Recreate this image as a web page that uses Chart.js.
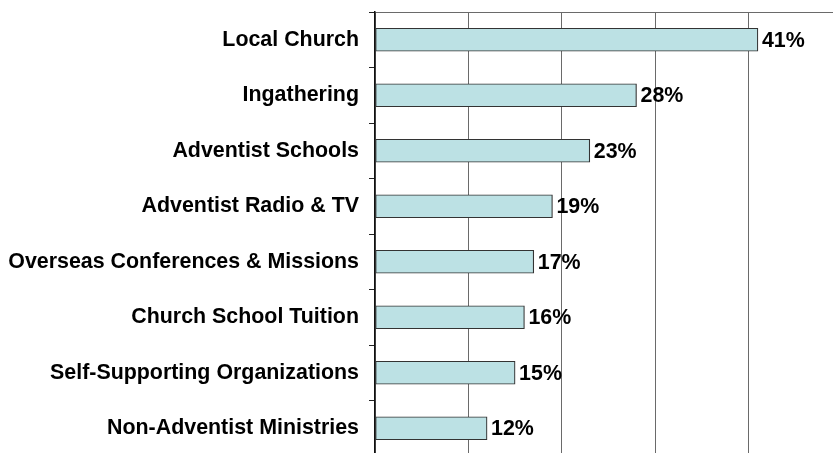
<!DOCTYPE html>
<html>
<head>
<meta charset="utf-8">
<script src="https://cdn.jsdelivr.net/npm/chart.js@4.4.1/dist/chart.umd.min.js"></script>
<style>
html,body{margin:0;padding:0;background:#fff;overflow:hidden;width:833px;height:453px;}
#wrap{position:absolute;left:0;top:0;width:842px;height:456px;}
</style>
</head>
<body>
<div id="wrap"><canvas id="c" width="842" height="456"></canvas></div>
<script>
const categories = ["Local Church","Ingathering","Adventist Schools","Adventist Radio & TV","Overseas Conferences & Missions","Church School Tuition","Self-Supporting Organizations","Non-Adventist Ministries"];
const values = [41,28,23,19,17,16,15,12];
const xTicks = [0,10,20,30,40,50];

const valueLabels = {
  id:'valueLabels',
  afterDatasetsDraw(chart){
    const ctx = chart.ctx;
    const meta = chart.getDatasetMeta(0);
    ctx.save();
    ctx.font = 'bold 21.4px "Liberation Sans", Arial, sans-serif';
    ctx.fillStyle = '#000';
    ctx.textAlign = 'left';
    ctx.textBaseline = 'middle';
    meta.data.forEach((bar,i)=>{
      ctx.fillText(values[i] + '%', bar.x + 4, bar.y + 1);
    });
    ctx.restore();
  }
};

new Chart(document.getElementById('c'), {
  type:'bar',
  data:{
    labels:categories,
    datasets:[{
      data:values,
      backgroundColor:'#BCE1E4',
      borderColor:'#333333',
      borderWidth:1.2,
      borderSkipped:false,
      barThickness:23
    }]
  },
  options:{
    indexAxis:'y',
    responsive:false,
    animation:false,
    events:[],
    layout:{padding:{top:12,left:0,right:0,bottom:0}},
    plugins:{legend:{display:false},tooltip:{enabled:false}},
    scales:{
      x:{
        position:'top',
        min:0,max:50,
        afterBuildTicks(scale){ scale.ticks = xTicks.map(v=>({value:v})); },
        afterFit(scale){ scale.height = 0; scale.paddingLeft = 0; scale.paddingRight = 0; },
        ticks:{display:false},
        grid:{color:'#6a6a6a',lineWidth:1,drawTicks:false},
        border:{color:'#6a6a6a',width:1}
      },
      y:{
        afterFit(scale){ scale.width = 375; scale.paddingTop = 0; scale.paddingBottom = 0; },
        ticks:{
          color:'#000',
          padding:10,
          font:{family:'"Liberation Sans", Arial, sans-serif',size:21.4,weight:'bold'}
        },
        grid:{drawOnChartArea:false,drawTicks:true,tickLength:6,color:'#222',offset:true},
        border:{color:'#111',width:1.5}
      }
    }
  },
  plugins:[valueLabels]
});
</script>
</body>
</html>
